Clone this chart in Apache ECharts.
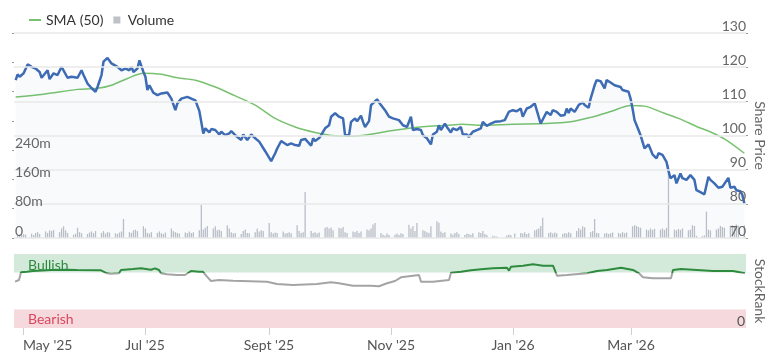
<!DOCTYPE html>
<html><head><meta charset="utf-8">
<script src="https://cdn.jsdelivr.net/npm/echarts@6/dist/echarts.min.js"></script>
<style>html,body{margin:0;padding:0;background:#fff}#c{width:770px;height:360px}</style>
</head><body><div id="c"></div>
<script>
const priceDates = ['2025-04-27','2025-04-28','2025-04-29','2025-05-01','2025-05-03','2025-05-05','2025-05-07','2025-05-09','2025-05-10','2025-05-13','2025-05-14','2025-05-16','2025-05-18','2025-05-20','2025-05-21','2025-05-23','2025-05-25','2025-05-28','2025-05-30','2025-05-31',
'2025-06-02','2025-06-04','2025-06-06','2025-06-07','2025-06-09','2025-06-10','2025-06-12','2025-06-14','2025-06-17','2025-06-19','2025-06-21','2025-06-23','2025-06-24','2025-06-25','2025-06-27','2025-06-28','2025-06-30',
'2025-07-01','2025-07-02','2025-07-03','2025-07-05','2025-07-07','2025-07-09','2025-07-10','2025-07-12','2025-07-14','2025-07-16','2025-07-17','2025-07-19','2025-07-22','2025-07-24','2025-07-26','2025-07-28','2025-07-30','2025-07-31',
'2025-08-02','2025-08-03','2025-08-05','2025-08-07','2025-08-08','2025-08-10','2025-08-12','2025-08-13','2025-08-15','2025-08-18','2025-08-19','2025-08-21','2025-08-23','2025-08-25','2025-08-27','2025-08-28','2025-08-30','2025-08-31',
'2025-09-02','2025-09-04','2025-09-05','2025-09-07','2025-09-08','2025-09-10','2025-09-12','2025-09-14','2025-09-16','2025-09-17','2025-09-19','2025-09-22','2025-09-23','2025-09-24','2025-09-26','2025-09-27','2025-09-29',
'2025-10-01','2025-10-02','2025-10-04','2025-10-06','2025-10-08','2025-10-09','2025-10-11','2025-10-12','2025-10-14','2025-10-15','2025-10-17','2025-10-18','2025-10-19','2025-10-21','2025-10-22','2025-10-25','2025-10-27','2025-10-29','2025-10-31',
'2025-11-02','2025-11-05','2025-11-07','2025-11-09','2025-11-11','2025-11-12','2025-11-14','2025-11-16','2025-11-17','2025-11-19','2025-11-21','2025-11-22','2025-11-24','2025-11-25','2025-11-26','2025-11-28','2025-11-29',
'2025-12-01','2025-12-02','2025-12-04','2025-12-06','2025-12-07','2025-12-09','2025-12-10','2025-12-12','2025-12-14','2025-12-16','2025-12-17','2025-12-19','2025-12-21','2025-12-23','2025-12-26','2025-12-28','2025-12-30',
'2026-01-01','2026-01-03','2026-01-05','2026-01-06','2026-01-08','2026-01-10','2026-01-12','2026-01-13','2026-01-15','2026-01-16','2026-01-18','2026-01-20','2026-01-21','2026-01-23','2026-01-25','2026-01-27','2026-01-28','2026-01-29','2026-01-30',
'2026-02-01','2026-02-03','2026-02-05','2026-02-06','2026-02-08','2026-02-09','2026-02-11','2026-02-12','2026-02-14','2026-02-16','2026-02-17','2026-02-19','2026-02-21','2026-02-22','2026-02-24','2026-02-25','2026-02-28',
'2026-03-01','2026-03-02','2026-03-03','2026-03-05','2026-03-06','2026-03-08','2026-03-10','2026-03-11','2026-03-12','2026-03-14','2026-03-15','2026-03-17','2026-03-19','2026-03-20','2026-03-21','2026-03-23','2026-03-24','2026-03-26','2026-03-27','2026-03-29','2026-03-31',
'2026-04-02','2026-04-03','2026-04-05','2026-04-07','2026-04-09','2026-04-10','2026-04-12','2026-04-14','2026-04-16','2026-04-17','2026-04-19','2026-04-20','2026-04-22','2026-04-23','2026-04-25','2026-04-26','2026-04-27'];
const priceValues = [116.2,117.9,117.2,118.2,120.8,120.1,119.6,118.6,116.9,119.1,116.5,118.2,117.7,120.1,119.6,116.9,117.2,116.9,119.1,117.7,
115.2,113.9,112.8,114.2,117.7,121.6,122.7,121.1,120.1,119.1,119.6,119.1,120.1,118.6,119.6,122.0,118.6,
117.2,113.3,114.7,112.5,111.8,112.3,111.8,112.6,110.8,107.4,109.4,110.8,111.3,110.8,110.3,107.2,100.6,102.1,
100.9,101.9,101.6,100.3,101.1,100.1,100.6,101.3,100.1,98.7,100.3,98.7,100.3,99.2,98.2,97.7,95.4,95.7,
92.5,94.8,96.2,98.4,98.0,97.2,97.7,97.2,97.0,98.7,99.0,97.0,99.2,98.4,99.3,100.1,102.1,
103.0,105.5,106.5,105.5,105.0,100.1,100.1,104.0,105.0,104.2,105.8,104.0,102.5,104.2,108.9,110.6,108.9,107.4,105.5,
105.0,104.5,103.0,102.5,105.5,101.6,101.9,101.6,100.1,99.2,97.4,100.3,101.1,103.0,101.6,103.5,102.5,
100.9,102.1,101.6,102.5,100.3,100.3,99.6,101.1,101.6,102.1,104.0,102.8,103.5,104.0,104.2,104.5,106.9,
107.4,107.1,107.9,105.5,107.9,108.4,109.4,107.4,103.5,103.5,106.9,106.0,107.4,106.9,105.8,106.0,107.9,106.6,107.9,
106.9,108.9,109.7,108.9,108.1,110.8,114.7,116.2,115.9,113.8,116.2,115.5,114.7,114.5,114.2,113.3,112.8,
110.8,107.9,104.5,101.6,100.1,96.2,97.4,97.2,94.5,93.3,94.8,94.3,92.3,89.6,87.5,88.4,86.0,88.9,87.5,87.0,88.4,
87.0,84.0,83.4,82.8,87.9,87.0,86.0,84.7,85.0,85.3,87.6,84.7,85.0,84.0,83.7,82.6,80.1];

const smaDates = ['2025-04-27','2025-05-11','2025-05-28','2025-06-07','2025-06-14','2025-06-22','2025-06-30','2025-07-09','2025-07-17','2025-07-26','2025-08-05','2025-08-15','2025-08-25','2025-09-04','2025-09-14','2025-09-24','2025-10-04','2025-10-12','2025-10-21','2025-10-29','2025-11-12','2025-11-29','2025-12-07','2025-12-16','2026-01-01','2026-01-18','2026-01-30','2026-02-09','2026-02-19','2026-03-01','2026-03-08','2026-03-18','2026-03-26','2026-04-04','2026-04-09','2026-04-17','2026-04-27'];
const smaValues = [111.3,112.1,113.5,113.8,114.7,116.7,118.2,117.9,116.9,116.2,114.2,111.6,108.9,105.0,102.5,100.9,99.9,99.8,100.3,101.1,102.3,103.0,103.3,103.0,103.3,103.5,104.0,105.3,107.0,108.8,108.6,106.5,104.8,102.4,101.3,99.0,94.8];

// daily volume (millions), trading days starting Mon 2025-04-28, one row per week
const volumeStart = '2025-04-28';
const volumeValues = [
7,9,8,11,9, 12,8,14,16,11, 18,14,21,19,22, 16,26,32,21,14, 9,12,28,16,13,
11,15,18,13,19, 14,19,12,16,15, 13,11,15,18,52, 16,14,21,23,19, 32,26,14,12,16,
14,18,13,11,15, 26,19,16,14,12, 15,13,18,14,16, 21,90,23,28,33, 26,32,21,23,19,
35,26,16,12,14, 11,19,23,14,13, 16,26,18,21,19, 41,16,12,15,14, 18,12,14,16,13,
35,19,14,16,126, 19,14,16,12,15, 28,30,26,29,21, 28,26,30,16,14, 18,16,19,14,18,
23,21,26,37,41, 14,9,6,12,8, 9,12,8,13,11, 36,26,33,19,41, 21,19,16,14,32,
46,42,18,14,16, 12,9,14,16,11, 8,12,11,9,13, 16,14,19,11,8, 6,5,4,0,0,
7,9,8,0,12, 14,12,16,11,13, 21,23,26,33,55, 14,16,12,15,13, 11,14,12,16,13,
19,27,23,32,29, 16,19,52,14,13, 12,14,11,13,15, 14,12,16,13,15, 32,35,33,30,28,
23,21,26,22,25, 23,26,22,28,199, 23,21,25,22,26, 21,23,35,33,6, 5,7,72,23,21,
23,26,33,30,28, 33,35,30,37,34, 35];

const rankDates = ['2025-04-27','2025-04-29','2025-04-30','2025-05-03','2025-05-06','2025-05-15','2025-05-23','2025-05-28','2025-06-09','2025-06-10','2025-06-12','2025-06-14','2025-06-18','2025-06-19','2025-06-25','2025-06-29','2025-07-04','2025-07-06','2025-07-08','2025-07-09','2025-07-12','2025-07-17','2025-07-21','2025-07-22','2025-07-24','2025-07-28','2025-07-30','2025-08-01','2025-08-03','2025-08-07','2025-08-14','2025-08-31','2025-09-05','2025-09-13','2025-09-25','2025-10-02','2025-10-06','2025-10-13','2025-10-22','2025-10-26','2025-10-30','2025-11-03','2025-11-06','2025-11-11','2025-11-15','2025-11-16','2025-11-22','2025-11-30','2025-12-01','2025-12-06','2025-12-11','2025-12-16','2025-12-22','2025-12-29','2025-12-30','2025-12-31','2026-01-06','2026-01-11','2026-01-16','2026-01-21','2026-01-23','2026-01-28','2026-02-07','2026-02-12','2026-02-17','2026-02-24','2026-03-02','2026-03-05','2026-03-07','2026-03-12','2026-03-21','2026-03-22','2026-03-26','2026-04-03','2026-04-11','2026-04-21','2026-04-27'];
const rankValues = [62.6,64.9,75.2,76,77,78.4,78.8,78.4,78,77,73.9,73.4,73.9,78.4,79.7,80.6,78.8,80.6,78.4,73.9,72.6,71.6,71.6,73.9,77,76,76,69.4,63.5,64.9,63.9,62.6,59.5,58.1,59.5,61.7,60.4,57.2,57.2,56.5,60.4,63.5,68.5,70.3,71.6,62.6,62.6,64.9,74.7,76,78,79.3,80.6,81.5,77.5,82.9,84.2,86.1,84.2,84.2,70.7,71.6,73.9,77,78.4,81.5,78.4,73.9,68.5,67.2,67.2,78.4,79.7,78.4,77,77,73.9];

const bands = { bullish: [75, 100], bearish: [0, 25] };
const monthTickDates = ['2025-05-01','2025-07-01','2025-09-01','2025-11-01','2026-01-01','2026-03-01'];
const monthNames = ['Jan','Feb','Mar','Apr','May','Jun','Jul','Aug','Sept','Oct','Nov','Dec'];
const xRange = ['2025-04-26 12:00:00', '2026-04-27 12:00:00'];

const ts = s => echarts.number.parseDate(s).getTime();
const volumeDates = [];
{
  const d = echarts.number.parseDate(volumeStart);
  while (volumeDates.length < volumeValues.length) {
    const wd = d.getDay();
    if (wd !== 0 && wd !== 6) volumeDates.push(d.getTime());
    d.setDate(d.getDate() + 1);
  }
}
const tickTs = monthTickDates.map(ts);
const xMin = ts(xRange[0]), xMax = ts(xRange[1]);
const FONT = 'Lato, sans-serif';

const chart = echarts.init(document.getElementById('c'));
chart.setOption({
  animation: false,
  textStyle: { fontFamily: FONT },
  legend: {
    left: 24, top: 8, itemWidth: 12, itemHeight: 7, itemGap: 10, selectedMode: false,
    textStyle: { fontSize: 14, color: '#333', fontFamily: FONT },
    data: [{ name: 'SMA (50)', icon: 'path://M0,0L12,0L12,2L0,2Z' },
           { name: 'Volume', icon: 'path://M0,0L1,0L1,1L0,1Z' }]
  },
  grid: [
    { left: 14, right: 24, top: 33, height: 205, outerBoundsMode: 'none', containLabel: false },
    { left: 14, right: 24, top: 254, height: 74, outerBoundsMode: 'none', containLabel: false }
  ],
  xAxis: [
    { type: 'time', gridIndex: 0, min: xMin, max: xMax, show: false },
    { type: 'value', gridIndex: 1, min: xMin, max: xMax, scale: true,
      axisLine: { show: false }, splitLine: { show: false },
      axisTick: { show: true, customValues: tickTs, length: 7, lineStyle: { color: '#cfcfcf' } },
      axisLabel: {
        customValues: tickTs, color: '#555', fontSize: 14, margin: 10, fontFamily: FONT,
        alignMinLabel: 'left',
        formatter: v => {
          const d = new Date(v);
          return monthNames[d.getMonth()] + " '" + String(d.getFullYear()).slice(2);
        }
      }
    }
  ],
  yAxis: [
    { type: 'value', gridIndex: 0, position: 'right', min: 70, max: 130, interval: 10, z: 6,
      name: 'Share Price', nameLocation: 'middle', nameRotate: -90, nameGap: 7, nameMoveOverlap: false,
      nameTextStyle: { color: '#666', fontSize: 14, fontFamily: FONT },
      axisLine: { show: false }, axisTick: { show: true, length: 2, lineStyle: { color: '#999' } },
      axisLabel: { inside: true, verticalAlign: 'bottom', margin: 0, color: '#666', fontSize: 14, fontFamily: FONT },
      splitLine: { lineStyle: { color: '#e8e8e8', width: 1.5 } } },
    { type: 'value', gridIndex: 0, position: 'left', min: 0, max: 560, interval: 80, z: 6,
      axisLine: { show: false }, axisTick: { show: true, length: 2, lineStyle: { color: '#999' } },
      splitLine: { show: false },
      axisLabel: { inside: true, verticalAlign: 'bottom', margin: 1, color: '#666', fontSize: 14, fontFamily: FONT,
        formatter: v => v > 240 ? '' : (v === 0 ? '0' : v + 'm') } },
    { type: 'value', gridIndex: 1, position: 'right', min: 0, max: 100, z: 6,
      name: 'StockRank', nameLocation: 'middle', nameRotate: -90, nameGap: 7, nameMoveOverlap: false,
      nameTextStyle: { color: '#666', fontSize: 14, fontFamily: FONT },
      axisLine: { show: false }, axisTick: { show: false }, splitLine: { show: false },
      axisLabel: { inside: true, verticalAlign: 'bottom', margin: 1, color: '#555', fontSize: 14, fontFamily: FONT,
        formatter: v => v === 0 ? '0' : '' } }
  ],
  visualMap: {
    type: 'piecewise', show: false, seriesIndex: 3, dimension: 1,
    pieces: [{ min: 0, max: 75, color: '#a4a4a4' }, { min: 75, max: 100, color: '#2e8b3e' }]
  },
  series: [
    { name: 'Volume', type: 'bar', xAxisIndex: 0, yAxisIndex: 1, barWidth: 1.3, z: 1,
      itemStyle: { color: '#bec1c8' },
      data: volumeDates.map((t, i) => [t, volumeValues[i]]) },
    { name: 'Price', type: 'line', xAxisIndex: 0, yAxisIndex: 0, symbol: 'none', z: 3,
      lineStyle: { color: '#3d6cb5', width: 2.5 }, itemStyle: { color: '#3d6cb5' },
      areaStyle: { color: 'rgba(61,108,181,0.05)', origin: 'start' },
      data: priceDates.map((d, i) => [ts(d), priceValues[i]]) },
    { name: 'SMA (50)', type: 'line', xAxisIndex: 0, yAxisIndex: 0, symbol: 'none', smooth: 0.3, z: 2,
      lineStyle: { color: '#78c26f', width: 1.5 }, itemStyle: { color: '#78c26f' },
      data: smaDates.map((d, i) => [ts(d), smaValues[i]]) },
    { name: 'StockRank', type: 'line', xAxisIndex: 1, yAxisIndex: 2, symbol: 'none', z: 3,
      lineStyle: { width: 2 },
      data: rankDates.map((d, i) => [ts(d), rankValues[i]]),
      markArea: {
        silent: true, z: 1,
        data: [
          [{ name: 'Bullish', yAxis: bands.bullish[0], itemStyle: { color: '#d3eadb' },
             label: { show: true, position: [14, 4], color: '#2e8b3e', fontSize: 14, fontFamily: FONT } },
           { yAxis: bands.bullish[1] }],
          [{ name: 'Bearish', yAxis: bands.bearish[0], itemStyle: { color: '#f6d9dc' },
             label: { show: true, position: [14, 3], color: '#d9485f', fontSize: 14, fontFamily: FONT } },
           { yAxis: bands.bearish[1] }]
        ]
      } }
  ]
});
</script></body></html>
